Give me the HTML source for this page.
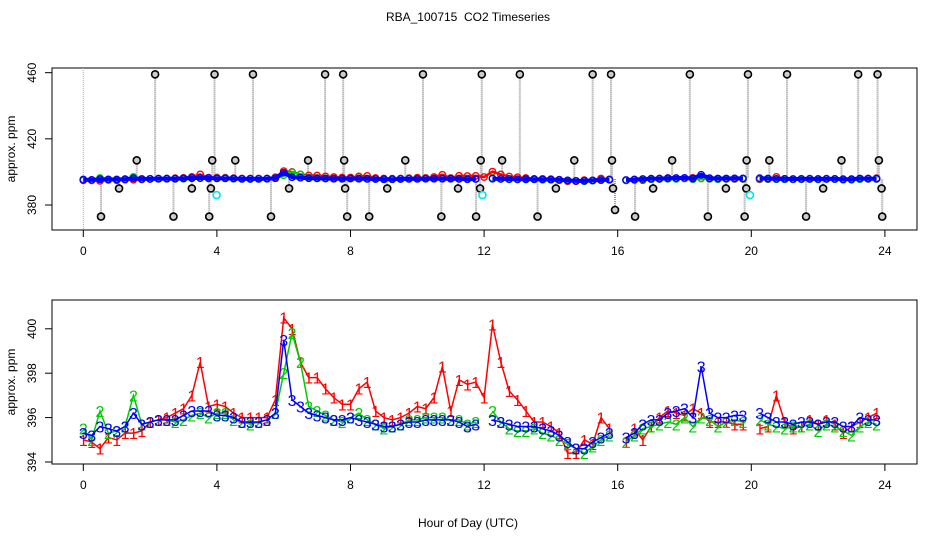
<!DOCTYPE html>
<html><head><meta charset="utf-8"><style>
html,body{margin:0;padding:0;background:#fff;}
svg{display:block;font-family:"Liberation Sans",sans-serif;}
</style></head><body>
<svg id="chart" width="936" height="540" viewBox="0 0 936 540" xmlns="http://www.w3.org/2000/svg">
<text x="468" y="21" font-size="12" text-anchor="middle" style="white-space:pre">RBA_100715  CO2 Timeseries</text>
<g id="topPanel"></g>
<g id="botPanel"></g>
<text x="468" y="527" font-size="12" text-anchor="middle">Hour of Day (UTC)</text>
</svg>
<script>
const hourStep = 0.25;
const red1 = [395.0,394.9,394.6,395.1,395.0,395.3,395.3,395.4,
395.8,395.9,396.0,396.2,396.4,397.0,398.5,396.5,
396.6,396.5,396.2,396.0,396.0,396.0,396.0,396.8,
400.5,400.0,398.5,397.8,397.8,397.3,396.9,396.6,
396.6,397.3,397.6,396.3,396.0,395.9,396.0,396.2,
396.5,396.4,396.9,398.3,396.3,397.7,397.5,397.6,
396.9,400.2,398.5,397.2,396.8,396.3,395.8,395.8,
395.6,395.3,394.4,394.4,395.0,394.8,396.0,395.5,
null,394.9,395.5,395.0,395.6,396.0,396.3,396.2,
396.1,396.4,396.2,395.8,395.8,395.8,395.7,395.7,
null,395.5,395.6,397.0,395.8,395.5,395.6,395.9,
395.7,395.9,395.7,395.3,395.6,395.8,396.0,396.2];
const green2 = [395.5,395.0,396.3,395.3,395.4,395.6,397.0,395.7,
395.8,395.9,395.9,395.8,395.9,396.1,396.2,396.0,
396.2,396.2,395.9,395.8,395.7,395.8,395.9,396.2,
398.0,399.8,398.5,396.5,396.3,396.1,395.9,395.8,
396.0,396.2,395.9,395.7,395.5,395.6,395.7,395.9,
395.9,396.0,396.0,396.0,395.9,395.9,395.7,395.8,
null,396.3,395.8,395.5,395.4,395.4,395.5,395.3,
395.2,395.0,394.8,394.6,394.4,394.7,395.0,395.2,
null,394.9,395.2,395.5,395.6,395.7,395.8,395.7,
396.0,395.6,396.0,395.9,395.6,395.8,395.9,395.8,
null,395.9,395.7,395.6,395.5,395.6,395.6,395.7,
395.4,395.7,395.6,395.4,395.2,395.6,395.8,395.7];
const blue3 = [395.3,395.2,395.6,395.5,395.4,395.6,396.2,395.7,
395.8,395.9,395.9,395.9,396.1,396.3,396.3,396.3,
396.1,396.1,396.0,395.8,395.8,395.8,395.9,396.2,
399.5,396.8,396.5,396.2,396.1,396.0,395.9,395.9,
396.0,395.9,395.8,395.7,395.6,395.6,395.7,395.8,
395.8,395.9,395.9,395.9,395.9,395.8,395.6,395.7,
null,395.9,395.8,395.7,395.6,395.6,395.6,395.5,
395.4,395.2,394.9,394.6,394.6,394.9,395.1,395.3,
null,395.1,395.3,395.7,395.9,395.9,396.2,396.3,
396.4,396.0,398.3,396.2,396.0,396.0,396.1,396.1,
null,396.2,396.0,395.8,395.8,395.7,395.8,395.8,
395.7,395.8,395.8,395.6,395.6,396.0,395.9,395.9];
const outHours = [0.53,1.07,1.6,2.15,2.7,3.25,3.77,3.82,3.86,3.93,4.55,5.08,5.62,6.16,6.73,7.24,7.78,7.81,7.84,7.9,8.56,9.1,9.64,10.17,10.72,11.22,11.76,11.88,11.9,11.93,12.54,13.07,13.6,14.15,14.7,15.25,15.8,15.83,15.86,15.92,16.52,17.06,17.63,18.16,18.7,19.24,19.8,19.85,19.86,19.9,20.54,21.07,21.64,22.15,22.7,23.2,23.78,23.82,23.9,23.92];
const outValues = [373,390,407,459,373,390,373,390,407,459,407,459,373,390,407,459,459,407,390,373,373,390,407,459,373,390,373,390,407,459,407,459,373,390,407,459,459,407,390,377,373,390,407,459,373,390,373,390,407,459,407,459,373,390,407,459,459,407,390,373];
const cyanHours = [3.99,11.95,19.96];
const cyanValues = [386,386,386];
const xTicks = [0,4,8,12,16,20,24];
const topYTicks = [380,420,460];
const botYTicks = [394,396,398,400];

const NS = "http://www.w3.org/2000/svg";
function mk(parent, tag, attrs){const e=document.createElementNS(NS,tag);for(const k in attrs)e.setAttribute(k,attrs[k]);parent.appendChild(e);return e;}
const xs = h => 83.3 + h*33.4;
const PL=52,PR=917;
const topY = v => 205 + (380 - v)*1.654;
const botY = v => 462 - (v - 394)*22.2;
const hourOf = i => i*hourStep;

function drawFrame(g, y0, y1, yfn, yticks, name){
  const b=mk(g,'rect',{x:PL,y:y0,width:PR-PL,height:y1-y0,fill:'none',stroke:'#000','stroke-width':1});
  
  
  xTicks.forEach(t=>{
    const l=mk(g,'line',{x1:xs(t),x2:xs(t),y1:y1,y2:y1+7,stroke:'#000'});
    
    
    const tx=mk(g,'text',{x:xs(t),y:y1+25,'font-size':12,'text-anchor':'middle'});
    tx.textContent=t;
    
    
  });
  yticks.forEach(t=>{
    const y=yfn(t);
    const l=mk(g,'line',{x1:PL-7,x2:PL,y1:y,y2:y,stroke:'#000'});
    
    
    const tx=mk(g,'text',{x:0,y:0,'font-size':12,'text-anchor':'middle',transform:`translate(36,${y}) rotate(-90)`});
    tx.textContent=t;
    
    
  });
  const yt=mk(g,'text',{x:0,y:0,'font-size':12,'text-anchor':'middle',transform:`translate(15,${(y0+y1)/2}) rotate(-90)`});
  yt.textContent='approx. ppm';
  
  
}

function segments(arr, yfn){
  const segs=[];let cur=[];
  arr.forEach((v,i)=>{ if(v===null){ if(cur.length)segs.push(cur); cur=[]; } else cur.push([xs(hourOf(i)),yfn(v)]); });
  if(cur.length)segs.push(cur);
  return segs;
}

// TOP PANEL
const topG=document.getElementById('topPanel');
drawFrame(topG,68,230,topY,topYTicks,'top');
const l0=mk(topG,'line',{x1:xs(0),x2:xs(0),y1:68,y2:230,stroke:'#aaa','stroke-dasharray':'1,1'});


outHours.forEach((h,i)=>{
  const l=mk(topG,'line',{x1:xs(h),x2:xs(h),y1:topY(outValues[i]),y2:topY(396),stroke:'#999','stroke-width':2,'stroke-dasharray':'1,1'});
  
  
});
[[red1,'#ff0000','red'],[green2,'#00cc00','green'],[blue3,'#0000ff','blue']].forEach(([arr,col,nm])=>{
  segments(arr,topY).forEach(s=>{
    const p=mk(topG,'polyline',{points:s.map(q=>q.join(',')).join(' '),fill:'none',stroke:col,'stroke-width':nm==='blue'?4:2.5});
    
    
  });
  arr.forEach((v,i)=>{ if(v===null)return;
    const c=mk(topG,'circle',{cx:xs(hourOf(i)),cy:topY(v),r:3.2,fill:'none',stroke:col,'stroke-width':1.4});
    
    
  });
});
outHours.forEach((h,i)=>{
  const c=mk(topG,'circle',{cx:xs(h),cy:topY(outValues[i]),r:3.5,fill:'#ccc',stroke:'#000','stroke-width':1.6});
  
  
});
cyanHours.forEach((h,i)=>{
  const c=mk(topG,'circle',{cx:xs(h),cy:topY(cyanValues[i]),r:3.5,fill:'none',stroke:'#00e5ee','stroke-width':1.6});
  
  
});

// BOTTOM PANEL
const botG=document.getElementById('botPanel');
drawFrame(botG,300,464,botY,botYTicks,'bottom');
[[red1,'#ff0000','1','red'],[green2,'#00cc00','2','green'],[blue3,'#0000ff','3','blue']].forEach(([arr,col,lab,nm])=>{
  segments(arr,botY).forEach(s=>{
    const p=mk(botG,'polyline',{points:s.map(q=>q.join(',')).join(' '),fill:'none',stroke:col,'stroke-width':1.5});
    
    
  });
  arr.forEach((v,i)=>{ if(v===null)return;
    const t=mk(botG,'text',{x:xs(hourOf(i)),y:botY(v)+6,'font-size':16,'text-anchor':'middle',fill:col});
    t.textContent=lab;
    
    
  });
});
</script>
</body></html>
